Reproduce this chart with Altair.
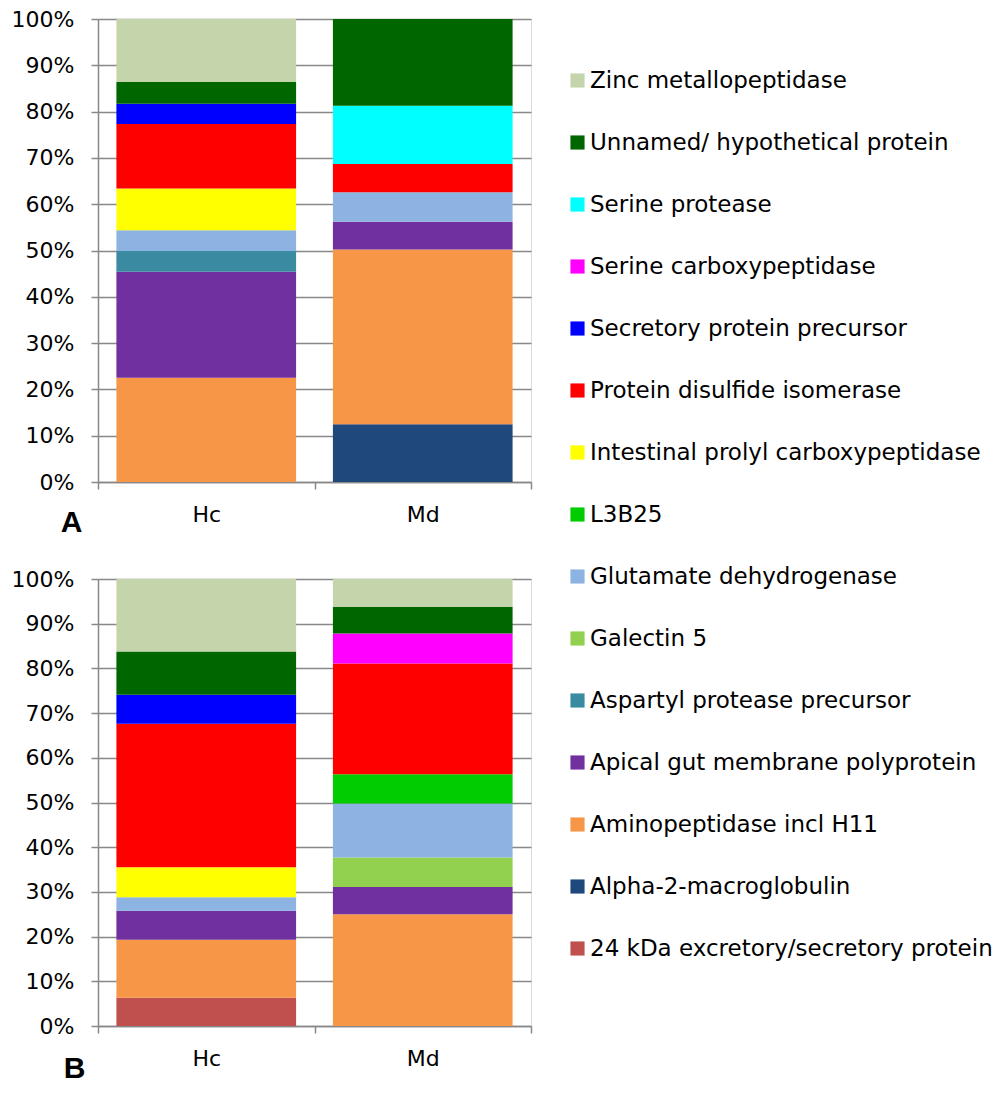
import altair as alt
import pandas as pd

proteins = [  # stacking order, bottom to top
    "24 kDa excretory/secretory protein",
    "Alpha-2-macroglobulin",
    "Aminopeptidase incl H11",
    "Apical gut membrane  polyprotein",
    "Aspartyl protease precursor",
    "Galectin 5",
    "Glutamate dehydrogenase",
    "L3B25",
    "Intestinal prolyl carboxypeptidase",
    "Protein disulfide isomerase",
    "Secretory protein precursor",
    "Serine carboxypeptidase",
    "Serine protease",
    "Unnamed/ hypothetical protein",
    "Zinc metallopeptidase",
]
colors = [
    "#C0504D", "#1F497D", "#F79646", "#7030A0", "#3A8AA1",
    "#92D050", "#8DB3E2", "#00CC00", "#FFFF00", "#FF0000",
    "#0000FF", "#FF00FF", "#00FFFF", "#006600", "#C5D5AB",
]
samples = ["Hc", "Md"]

# values (%) per protein, in the order of `proteins`
a_hc = [0, 0, 22.5, 22.9, 4.5, 0, 4.5, 0, 9.0, 13.9, 4.4, 0, 0, 4.7, 13.6]
a_md = [0, 12.5, 37.7, 6.0, 0, 0, 6.4, 0, 0, 6.1, 0, 0, 12.55, 18.75, 0]
b_hc = [6.3, 0, 13.0, 6.5, 0, 0, 3.0, 0, 6.7, 32.1, 6.5, 0, 0, 9.7, 16.2]
b_md = [0, 0, 25.0, 6.1, 0, 6.6, 12.1, 6.5, 0, 24.8, 0, 6.7, 0, 6.0, 6.2]

rows = []
for panel, series in (("A", (a_hc, a_md)), ("B", (b_hc, b_md))):
    for s, vals in zip(samples, series):
        for i, (p, v) in enumerate(zip(proteins, vals)):
            if v > 0:
                rows.append({"panel": panel, "sample": s, "protein": p,
                             "idx": i, "value": v})
df = pd.DataFrame(rows)

legend_order = proteins[::-1]
legend_colors = colors[::-1]

FONT = "DejaVu Sans"
GRID = "#888888"


def panel(name, h, tx, ty):
    return alt.Chart(df[df.panel == name]).mark_bar(
        stroke=None, width=alt.RelativeBandSize(0.83)
    ).encode(
        x=alt.X("sample:N", sort=samples,
                scale=alt.Scale(paddingInner=0, paddingOuter=0),
                axis=alt.Axis(title=name, labelAngle=0, tickBand="extent",
                              labelFontSize=22, labelFont=FONT, labelColor="black",
                              labelPadding=15, tickSize=7, tickColor=GRID,
                              tickWidth=1.5, domainColor=GRID, domainWidth=1.5,
                              grid=False,
                              titleFont="Liberation Sans", titleFontSize=30,
                              titleFontWeight="bold", titleColor="black",
                              titleAngle=0, titleX=tx, titleY=ty,
                              titleAlign="center", titleBaseline="middle")),
        y=alt.Y("value:Q", stack="normalize",
                scale=alt.Scale(domain=[0, 1]),
                axis=alt.Axis(title=None, format=".0%",
                              values=[i / 10 for i in range(11)],
                              labelFontSize=22, labelFont=FONT, labelColor="black",
                              labelPadding=17, tickSize=7, tickColor=GRID,
                              tickWidth=1.5, domainColor=GRID, domainWidth=1.5,
                              gridColor=GRID, gridWidth=1.5, gridOpacity=1)),
        color=alt.Color("protein:N",
                        scale=alt.Scale(domain=legend_order, range=legend_colors),
                        legend=alt.Legend(title=None, orient="none",
                                          legendX=468, legendY=50,
                                          symbolType="square", symbolSize=200,
                                          symbolStrokeWidth=0,
                                          labelFontSize=23, labelFont=FONT,
                                          labelColor="black", labelLimit=600,
                                          labelOffset=1, rowPadding=38)),
        order=alt.Order("idx:Q", sort="ascending"),
    ).properties(width=433, height=h)


chart = alt.vconcat(
    panel("A", 463, -27, 40),
    panel("B", 447, -24, 42),
    spacing=29,
).properties(
    padding={"left": 10, "top": 7, "right": 0, "bottom": 0},
).configure_view(stroke=None).configure(background="white")

chart.save("out.html", embed_options={"renderer": "svg", "actions": False})
